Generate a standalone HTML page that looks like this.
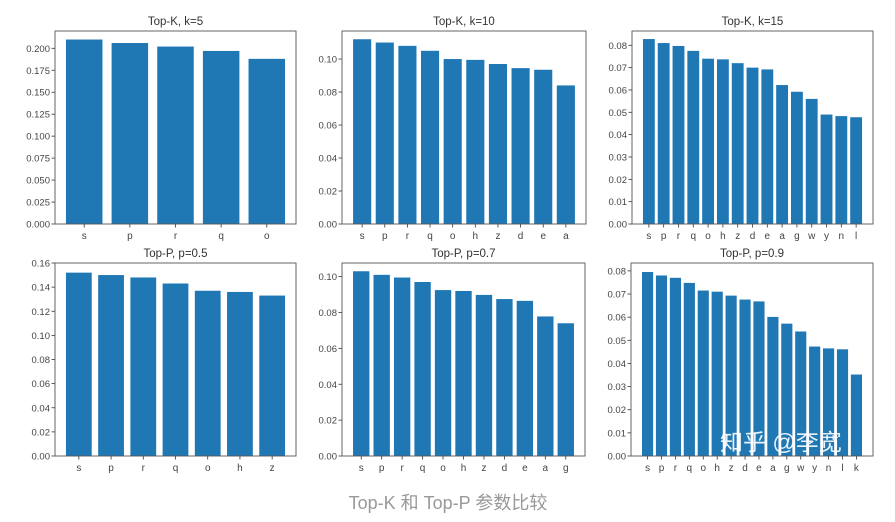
<!DOCTYPE html>
<html><head><meta charset="utf-8">
<style>
html,body{margin:0;padding:0;background:#fff;}
svg{display:block;}
</style></head>
<body>
<svg id="chart" width="895" height="522" xmlns="http://www.w3.org/2000/svg"></svg>
<script>
const titles = ["Top-K, k=5","Top-K, k=10","Top-K, k=15","Top-P, p=0.5","Top-P, p=0.7","Top-P, p=0.9"];
const cats1 = ["s","p","r","q","o"];
const cats2 = ["s","p","r","q","o","h","z","d","e","a"];
const cats3 = ["s","p","r","q","o","h","z","d","e","a","g","w","y","n","l"];
const cats4 = ["s","p","r","q","o","h","z"];
const cats5 = ["s","p","r","q","o","h","z","d","e","a","g"];
const cats6 = ["s","p","r","q","o","h","z","d","e","a","g","w","y","n","l","k"];
const vals1 = [0.210,0.206,0.202,0.197,0.188];
const vals2 = [0.112,0.110,0.108,0.105,0.100,0.0995,0.097,0.0945,0.0935,0.084];
const vals3 = [0.0828,0.081,0.0797,0.0775,0.074,0.0737,0.072,0.070,0.0692,0.0622,0.0592,0.056,0.049,0.0483,0.0478];
const vals4 = [0.152,0.150,0.148,0.143,0.137,0.136,0.133];
const vals5 = [0.103,0.101,0.0995,0.097,0.0925,0.092,0.0898,0.0875,0.0865,0.0778,0.074];
const vals6 = [0.0795,0.078,0.077,0.0748,0.0715,0.071,0.0693,0.0676,0.0668,0.0601,0.0572,0.0538,0.0473,0.0465,0.0461,0.0352];
const ticks1 = ["0.000","0.025","0.050","0.075","0.100","0.125","0.150","0.175","0.200"];
const ticks2 = ["0.00","0.02","0.04","0.06","0.08","0.10"];
const ticks3 = ["0.00","0.01","0.02","0.03","0.04","0.05","0.06","0.07","0.08"];
const ticks4 = ["0.00","0.02","0.04","0.06","0.08","0.10","0.12","0.14","0.16"];
const ticks5 = ["0.00","0.02","0.04","0.06","0.08","0.10"];
const ticks6 = ["0.00","0.01","0.02","0.03","0.04","0.05","0.06","0.07","0.08"];
const ymaxes = [0.2197,0.117,0.0864,0.16,0.1076,0.0834];

const NS="http://www.w3.org/2000/svg";
const svg=document.getElementById('chart');
function mk(tag,attrs,parent){const e=document.createElementNS(NS,tag);for(const k in attrs)e.setAttribute(k,attrs[k]);(parent||svg).appendChild(e);return e;}

const frames=[[55,296,31,224],[342,586,31,224],[632,873,31,224],[55,296,263,456],[342,585,263,456],[631,873,263,456]];
const allCats=[cats1,cats2,cats3,cats4,cats5,cats6];
const allVals=[vals1,vals2,vals3,vals4,vals5,vals6];
const allTicks=[ticks1,ticks2,ticks3,ticks4,ticks5,ticks6];
const font='"Liberation Sans", "DejaVu Sans", sans-serif';

for(let p=0;p<6;p++){
  const [L,R,T,B]=frames[p];
  const cats=allCats[p], vals=allVals[p], ticks=allTicks[p], ymax=ymaxes[p];
  const g=mk('g',{});
  
  
  const n=cats.length;
  const lo=-0.4, hi=n-1+0.4, m=(hi-lo)*0.05;
  const x0=lo-m, x1=hi+m;
  const xs=v=>L+(v-x0)/(x1-x0)*(R-L);
  const ys=v=>B-(v/ymax)*(B-T);
  for(let i=0;i<n;i++){
    const r=mk('rect',{x:xs(i-0.4),y:ys(vals[i]),width:xs(i+0.4)-xs(i-0.4),height:B-ys(vals[i]),fill:'#1f77b4'},g);
    
    
    mk('line',{x1:xs(i),x2:xs(i),y1:B,y2:B+3.5,stroke:'#333','stroke-width':0.8},g);
    const t=mk('text',{x:xs(i),y:B+15,'text-anchor':'middle','font-size':10,fill:'#444','font-family':font},g);
    t.textContent=cats[i];
    
    
  }
  for(let k=0;k<ticks.length;k++){
    const v=parseFloat(ticks[k]);const y=ys(v);
    mk('line',{x1:L-3.5,x2:L,y1:y,y2:y,stroke:'#333','stroke-width':0.8},g);
    const t=mk('text',{x:L-5,y:y+3.5,'text-anchor':'end','font-size':9.5,fill:'#444','font-family':font},g);
    t.textContent=ticks[k];
    
    
  }
  const fr=mk('rect',{x:L,y:T,width:R-L,height:B-T,fill:'none',stroke:'#555','stroke-width':0.9},g);
  
  
  const tt=mk('text',{x:(L+R)/2,y:T-6,'text-anchor':'middle','font-size':11.5,fill:'#333','font-family':font},g);
  tt.textContent=titles[p];
  
  
}
const wm=mk('text',{x:720,y:450,'font-size':23,fill:'#fff','fill-opacity':0.9,'font-family':'"Liberation Sans", "Noto Sans CJK SC", sans-serif'});
wm.textContent='知乎 @李宽';


const cap=mk('text',{x:448,y:509,'text-anchor':'middle','font-size':18,fill:'#999','font-family':'"Liberation Sans", "Noto Sans CJK SC", sans-serif'});
cap.textContent='Top-K 和 Top-P 参数比较';


</script>
</body></html>
